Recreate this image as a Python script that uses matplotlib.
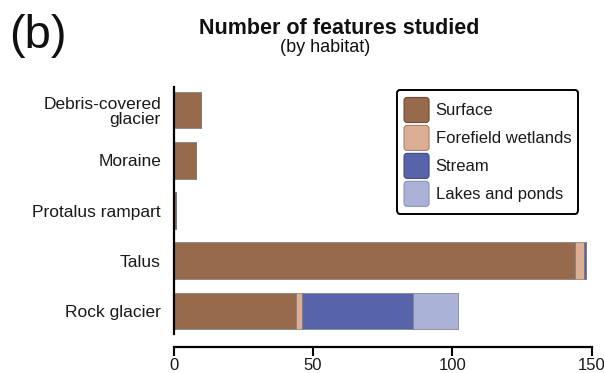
import matplotlib
matplotlib.use("Agg")
import matplotlib.pyplot as plt
from matplotlib.patches import FancyBboxPatch, Patch
from matplotlib.legend_handler import HandlerPatch
import numpy as np

plt.rcParams['font.family'] = ['Liberation Sans', 'DejaVu Sans']

categories = ["Debris-covered\nglacier", "Moraine", "Protalus rampart", "Talus", "Rock glacier"]
series_names = ["Surface", "Forefield wetlands", "Stream", "Lakes and ponds"]
surface = [10, 8, 1, 144, 44]
forefield = [0, 0, 0, 3, 2]
stream = [0, 0, 0, 1, 40]
lakes = [0, 0, 0, 0, 16]
xticks = [0, 50, 100, 150]
colors = ["#966a4b", "#dcae96", "#5864aa", "#aab2d7"]
legend_edges = ["#6e4a33", "#a8826c", "#3f4a8a", "#8a92bf"]

W, H = 604, 373
fig = plt.figure(figsize=(W / 100, H / 100), dpi=100)
ax = fig.add_axes([173.5 / W, 1 - 334 / H, (592 - 173.5) / W, (334 - 87) / H])

for s in ["top", "right"]:
    ax.spines[s].set_visible(False)
ax.spines["left"].set_linewidth(1.6)
ax.spines["bottom"].set_linewidth(1.6)
ax.spines["bottom"].set_position(("outward", 9))

y = np.arange(len(categories))
left = np.zeros(len(categories))
for name, vals, c in zip(series_names, [surface, forefield, stream, lakes], colors):
    vals = np.array(vals, dtype=float)
    ax.barh(y, vals, left=left, height=0.73, color=c, edgecolor="#7a7a7a",
            linewidth=0.5, label=name)
    left += vals

ax.set_ylim(len(categories) - 1 + 0.46, -0.46)
ax.set_xlim(0, 150)
ax.set_yticks(y)
ax.set_yticklabels(categories, linespacing=1.0)
ax.tick_params(axis='y', length=0, pad=9, labelsize=12.5, labelcolor="#1a1a1a")
ax.set_xticks(xticks)
ax.set_xticklabels([str(t) for t in xticks])
ax.tick_params(axis='x', length=6.5, width=1.5, pad=1.5, labelsize=12,
               labelcolor="#1a1a1a")


def rounded_patch(legend, orig_handle, xdescent, ydescent, width, height, fontsize):
    target = 18.0
    d = (target - height) / 2
    p = FancyBboxPatch((-xdescent + 0.6, -ydescent - d), width - 1.2, height + 2 * d,
                       boxstyle="round,pad=0,rounding_size=2.2")
    return p


handler = HandlerPatch(patch_func=rounded_patch)
handles = [Patch(facecolor=c, edgecolor=e, linewidth=0.8, label=n)
           for c, e, n in zip(colors, legend_edges, series_names)]
leg = ax.legend(handles=handles, loc="upper right", bbox_to_anchor=(578 / W, 1 - 90 / H),
                bbox_transform=fig.transFigure, fontsize=12, frameon=True,
                fancybox=True, handlelength=1.6, handleheight=2.08,
                labelspacing=0.08, handletextpad=0.35, borderpad=0.4,
                borderaxespad=0, handler_map={Patch: handler})
leg.get_frame().set_edgecolor("black")
leg.get_frame().set_linewidth(1.4)
leg.get_frame().set_alpha(1)
for t in leg.get_texts():
    t.set_color("#1a1a1a")

fig.text(339 / W, 1 - 28 / H, "Number of features studied", ha="center", va="center",
         fontsize=15.5, fontweight="bold", color="#111111")
fig.text(325 / W, 1 - 48 / H, "(by habitat)", ha="center", va="center",
         fontsize=13, color="#111111")
fig.text(9 / W, 1 - 36 / H, "(b)", ha="left", va="center", fontsize=34, color="#111111")

fig.savefig("out.png", dpi=100)
